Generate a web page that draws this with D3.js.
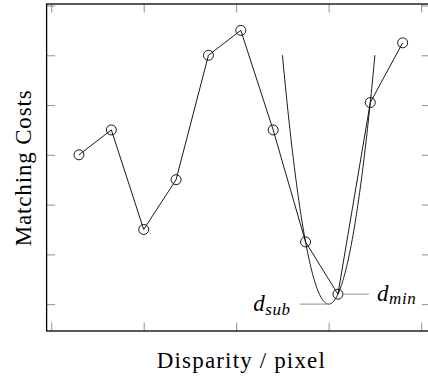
<!DOCTYPE html>
<html>
<head>
<meta charset="utf-8">
<script src="https://cdn.jsdelivr.net/npm/d3@7"></script>
<style>
  html, body { margin: 0; padding: 0; background: #fff; }
  svg { display: block; }
</style>
</head>
<body>
<svg id="chart" width="428" height="376"></svg>
<script>
// Disparity candidates and their matching costs
const disparities = [0.30, 0.65, 1.00, 1.35, 1.70, 2.05, 2.40, 2.75, 3.10, 3.45, 3.80];
const costs       = [3.0, 3.5, 1.5, 2.5, 5.0, 5.5, 3.5, 1.25, 0.2, 4.05, 5.25];

// Axis ticks (unlabelled)
const xTicks = [0, 1, 2, 3, 4];
const yTicks = [0, 1, 2, 3, 4, 5, 6];

// Plot window in data units
const xDomain = [-0.05, 4.1];
const yDomain = [-0.54, 6.03];

// Upper cost at which the fitted parabola is cut off
const parabolaTop = 5.0;

const serif = "'Liberation Serif', 'Times New Roman', 'DejaVu Serif', serif";

const svg = d3.select("#chart");

const x = d3.scaleLinear().domain(xDomain).range([46.6, 430.4]);
const y = d3.scaleLinear().domain(yDomain).range([331, 4]);

const tickColor = "#9a9a9a";
const tickLen = 8.5;

function styleTicks(s) {
  s.select(".domain").remove();
  s.selectAll("line").attr("stroke", tickColor).attr("stroke-width", 1.1);
}

// inward ticks on all four sides
const g = svg.append("g");
g.append("g").attr("transform", `translate(0,${y(yDomain[0])})`)
  .call(d3.axisBottom(x).tickValues(xTicks).tickSize(-tickLen).tickFormat("")).call(styleTicks);
g.append("g").attr("transform", `translate(0,${y(yDomain[1])})`)
  .call(d3.axisTop(x).tickValues(xTicks).tickSize(-tickLen).tickFormat("")).call(styleTicks);
g.append("g").attr("transform", `translate(${x(xDomain[0])},0)`)
  .call(d3.axisLeft(y).tickValues(yTicks).tickSize(-tickLen).tickFormat("")).call(styleTicks);
g.append("g").attr("transform", `translate(${x(xDomain[1])},0)`)
  .call(d3.axisRight(y).tickValues(yTicks).tickSize(-tickLen).tickFormat("")).call(styleTicks);

// frame
svg.append("rect")
  .attr("x", x(xDomain[0])).attr("y", y(yDomain[1]))
  .attr("width", x(xDomain[1]) - x(xDomain[0]))
  .attr("height", y(yDomain[0]) - y(yDomain[1]))
  .attr("fill", "none").attr("stroke", "#000").attr("stroke-width", 1.3);

// parabola through the minimum and its two neighbours
const iMin = d3.minIndex(costs);
const h = disparities[iMin + 1] - disparities[iMin];
const c0 = costs[iMin], cL = costs[iMin - 1], cR = costs[iMin + 1];
const A = (cL + cR - 2 * c0) / (2 * h * h);
const B = (cR - cL) / (2 * h);
const dMin = disparities[iMin];
const parab = d => A * (d - dMin) ** 2 + B * (d - dMin) + c0;
const dSub = dMin - B / (2 * A);
const cSub = parab(dSub);
const halfW = Math.sqrt((parabolaTop - cSub) / A);
const curve = d3.range(0, 201).map(k => {
  const d = dSub - halfW + (2 * halfW) * k / 200;
  return [d, parab(d)];
});

const line = d3.line().x(d => x(d[0])).y(d => y(d[1]));

svg.append("path").datum(curve).attr("d", line)
  .attr("fill", "none").attr("stroke", "#000").attr("stroke-width", 0.9);

// cost polyline with markers
svg.append("path").datum(disparities.map((d, i) => [d, costs[i]])).attr("d", line)
  .attr("fill", "none").attr("stroke", "#000").attr("stroke-width", 0.9);

svg.append("g").selectAll("circle").data(disparities).join("circle")
  .attr("cx", d => x(d)).attr("cy", (d, i) => y(costs[i])).attr("r", 5)
  .attr("fill", "none").attr("stroke", "#000").attr("stroke-width", 0.9);

// annotations: sub-pixel minimum and integer minimum
const ann = svg.append("g").attr("font-family", serif).attr("fill", "#000");
const subX = x(dSub), subY = y(cSub);
ann.append("line").attr("x1", subX - 29).attr("x2", subX).attr("y1", subY).attr("y2", subY)
  .attr("stroke", tickColor).attr("stroke-width", 1.1);
const tSub = ann.append("text").attr("x", subX - 38).attr("y", subY + 7).attr("text-anchor", "end")
  .attr("font-size", 23).attr("font-style", "italic").attr("letter-spacing", 0.6);
tSub.append("tspan").text("d");
tSub.append("tspan").attr("dy", 4).attr("font-size", 17).text("sub");

const minX = x(dMin), minY = y(c0);
ann.append("line").attr("x1", minX + 5).attr("x2", minX + 31).attr("y1", minY).attr("y2", minY)
  .attr("stroke", tickColor).attr("stroke-width", 1.1);
const tMin = ann.append("text").attr("x", minX + 39).attr("y", minY + 7)
  .attr("font-size", 23).attr("font-style", "italic").attr("letter-spacing", 0.6);
tMin.append("tspan").text("d");
tMin.append("tspan").attr("dy", 3).attr("font-size", 17).text("min");

// axis titles
svg.append("text").attr("x", 240.8).attr("y", 368).attr("text-anchor", "middle")
  .attr("font-family", serif).attr("font-size", 23).attr("fill", "#000")
  .attr("textLength", 168).attr("lengthAdjust", "spacing")
  .text("Disparity / pixel");
svg.append("text").attr("transform", "translate(31,168.3) rotate(-90)").attr("text-anchor", "middle")
  .attr("font-family", serif).attr("font-size", 23).attr("fill", "#000")
  .attr("textLength", 156).attr("lengthAdjust", "spacing")
  .text("Matching Costs");
</script>
</body>
</html>
